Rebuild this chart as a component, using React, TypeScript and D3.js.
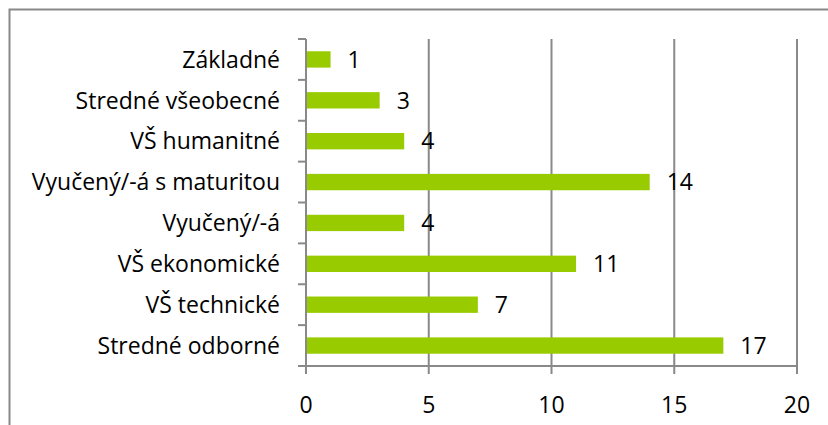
import React, { useEffect, useRef } from "react";
import * as d3 from "d3";

const categories = [
  "Základné",
  "Stredné všeobecné",
  "VŠ humanitné",
  "Vyučený/-á s maturitou",
  "Vyučený/-á",
  "VŠ ekonomické",
  "VŠ technické",
  "Stredné odborné",
];
const values = [1, 3, 4, 14, 4, 11, 7, 17];
const xTicks = [0, 5, 10, 15, 20];

const App = () => {
  const ref = useRef<SVGSVGElement>(null);

  useEffect(() => {
    const svg = d3.select(ref.current);
    svg.selectAll("*").remove();

    const left = 306;
    const right = 797;
    const top = 39;
    const bottom = 366;
    const font = "'Open Sans', sans-serif";
    const fontSize = "23px";
    const grey = "#898989";

    // outer frame (right and bottom edges fall outside the picture)
    svg
      .append("rect")
      .attr("x", 9.5)
      .attr("y", 9.5)
      .attr("width", 840)
      .attr("height", 440)
      .attr("fill", "#fff")
      .attr("stroke", grey)
      .attr("stroke-width", 2);

    const x = d3.scaleLinear().domain([0, 20]).range([left, right]);
    const y = d3.scaleBand().domain(categories).range([top, bottom]).paddingInner(0.6).paddingOuter(0.3);

    // gridlines
    svg
      .selectAll(".grid")
      .data(xTicks.filter((t) => t > 0))
      .enter()
      .append("line")
      .attr("x1", (d) => x(d))
      .attr("x2", (d) => x(d))
      .attr("y1", top)
      .attr("y2", bottom + 8)
      .attr("stroke", grey)
      .attr("stroke-width", 2);

    // bars
    svg
      .selectAll(".bar")
      .data(values)
      .enter()
      .append("rect")
      .attr("x", x(0))
      .attr("y", (_, i) => y(categories[i])!)
      .attr("width", (d) => x(d) - x(0))
      .attr("height", y.bandwidth())
      .attr("fill", "#99cc00");

    // value labels
    svg
      .selectAll(".val")
      .data(values)
      .enter()
      .append("text")
      .attr("x", (d) => x(d) + 17)
      .attr("y", (_, i) => y(categories[i])! + y.bandwidth() / 2)
      .attr("dy", "0.36em")
      .style("font-family", font)
      .style("font-size", fontSize)
      .attr("fill", "#000")
      .text((d) => d);

    // y axis line + category separator ticks
    svg
      .append("line")
      .attr("x1", left)
      .attr("x2", left)
      .attr("y1", top)
      .attr("y2", bottom + 8)
      .attr("stroke", grey)
      .attr("stroke-width", 2);
    const step = (bottom - top) / categories.length;
    svg
      .selectAll(".ytick")
      .data(d3.range(categories.length + 1))
      .enter()
      .append("line")
      .attr("x1", left - 8)
      .attr("x2", left)
      .attr("y1", (d) => top + d * step)
      .attr("y2", (d) => top + d * step)
      .attr("stroke", grey)
      .attr("stroke-width", 2);

    // x axis line
    svg
      .append("line")
      .attr("x1", left - 8)
      .attr("x2", right)
      .attr("y1", bottom)
      .attr("y2", bottom)
      .attr("stroke", grey)
      .attr("stroke-width", 2);

    // category labels
    svg
      .selectAll(".cat")
      .data(categories)
      .enter()
      .append("text")
      .attr("x", left - 26)
      .attr("y", (d) => y(d)! + y.bandwidth() / 2)
      .attr("dy", "0.36em")
      .attr("text-anchor", "end")
      .style("font-family", font)
      .style("font-size", fontSize)
      .attr("fill", "#000")
      .text((d) => d);

    // x tick labels
    svg
      .selectAll(".xlab")
      .data(xTicks)
      .enter()
      .append("text")
      .attr("x", (d) => x(d))
      .attr("y", 405)
      .attr("dy", "0.36em")
      .attr("text-anchor", "middle")
      .style("font-family", font)
      .style("font-size", fontSize)
      .attr("fill", "#000")
      .text((d) => d);
  }, []);

  return (
    <div style={{ position: "fixed", left: 0, top: 0 }}>
      <svg ref={ref} width={828} height={425} style={{ display: "block" }} />
    </div>
  );
};

export default App;
